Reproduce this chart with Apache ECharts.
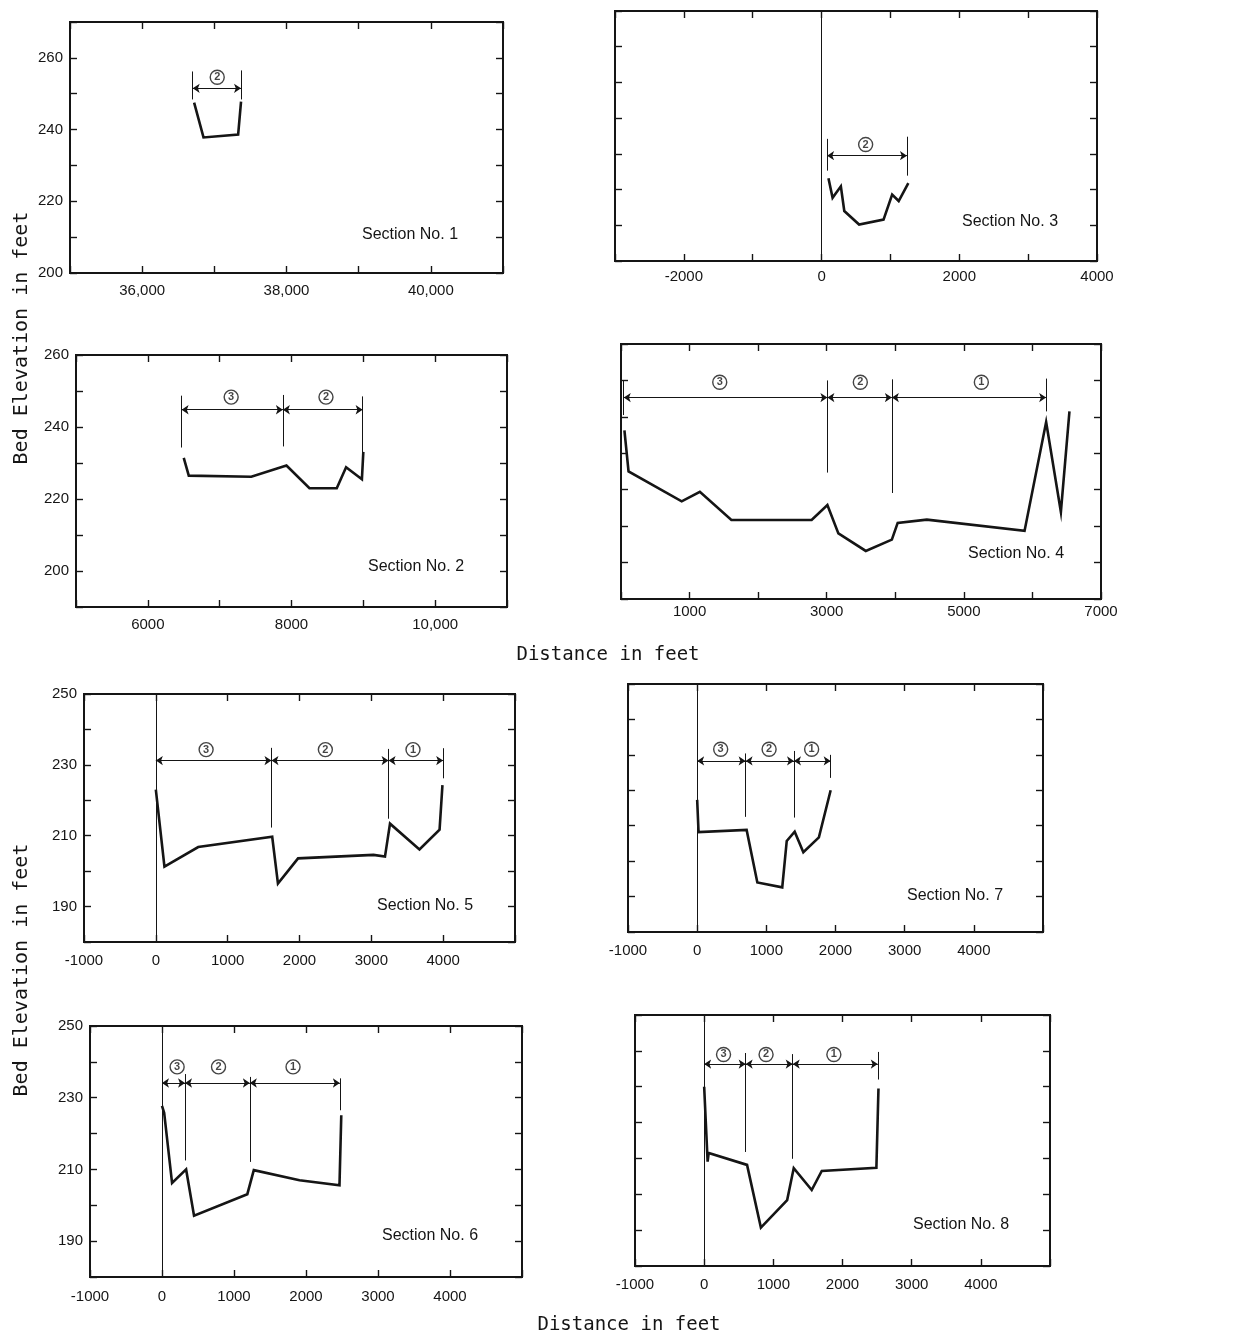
<!DOCTYPE html>
<html>
<head>
<meta charset="utf-8">
<script src="https://cdn.jsdelivr.net/npm/echarts@6/dist/echarts.min.js"></script>
<style>
html,body{margin:0;padding:0;background:#fff;}
#chart{width:1254px;height:1335px;}
</style>
</head>
<body>
<div id="chart"></div>
<script>
// ---------------- DATA ----------------
// Section No. 1
const sec1X = [36720, 36850, 37330, 37370];
const sec1Y = [247.5, 237.8, 238.6, 247.8];
const sec1Bounds = [36700, 37370];
const sec1BoundTop = [256.2, 256.5];
const sec1BoundBottom = [248.4, 248.4];
const sec1BracketY = 251.5;
const sec1Zones = ['2'];
const sec1ZoneX = [37040];
const sec1ZoneY = 254.6;

// Section No. 3
const sec3X = [100, 160, 280, 330, 545, 900, 1025, 1120, 1260];
const sec3Y = [223.2, 217.7, 220.9, 214.0, 210.2, 211.6, 218.6, 216.8, 221.8];
const sec3Bounds = [80, 1240];
const sec3BoundTop = [234.2, 234.8];
const sec3BoundBottom = [225.3, 223.9];
const sec3BracketY = 229.5;
const sec3Zones = ['2'];
const sec3ZoneX = [640];
const sec3ZoneY = 232.6;

// Section No. 2
const sec2X = [6500, 6570, 7440, 7930, 8250, 8630, 8760, 8980, 9000];
const sec2Y = [231.4, 226.5, 226.2, 229.3, 223.0, 223.0, 228.8, 225.5, 233.1];
const sec2Bounds = [6470, 7880, 8990];
const sec2BoundTop = [248.7, 248.9, 248.5];
const sec2BoundBottom = [234.3, 234.6, 232.3];
const sec2BracketY = 244.8;
const sec2Zones = ['3', '2'];
const sec2ZoneX = [7160, 8480];
const sec2ZoneY = 248.3;

// Section No. 4
const sec4X = [50, 110, 885, 1150, 1610, 2780, 3010, 3170, 3570, 3950, 4035, 4460, 5885, 6200, 6415, 6540];
const sec4Y = [236.3, 225.0, 216.8, 219.4, 211.7, 211.7, 215.8, 208.0, 203.2, 206.3, 210.9, 211.8, 208.7, 238.6, 213.9, 241.5];
const sec4Bounds = [40, 3010, 3950, 6200];
const sec4BoundTop = [250.0, 250.0, 250.3, 250.5];
const sec4BoundBottom = [240.5, 224.7, 219.1, 241.5];
const sec4BracketY = 245.3;
const sec4Zones = ['3', '2', '1'];
const sec4ZoneX = [1440, 3490, 5255];
const sec4ZoneY = 249.5;

// Section No. 5
const sec5X = [0, 120, 590, 1620, 1700, 1980, 3030, 3190, 3260, 3670, 3950, 3990];
const sec5Y = [223.0, 201.3, 206.8, 209.7, 196.5, 203.6, 204.6, 204.1, 213.4, 206.1, 211.7, 224.3];
const sec5Bounds = [0, 1610, 3240, 4000];
const sec5BoundTop = [235.0, 234.8, 234.5, 234.7];
const sec5BoundBottom = [212.0, 212.3, 214.8, 226.2];
const sec5BracketY = 231.2;
const sec5Zones = ['3', '2', '1'];
const sec5ZoneX = [700, 2360, 3580];
const sec5ZoneY = 234.3;

// Section No. 7
const sec7X = [0, 20, 715, 870, 1230, 1295, 1410, 1535, 1760, 1930];
const sec7Y = [217.3, 208.2, 208.8, 194.0, 192.6, 205.7, 208.3, 202.5, 206.7, 220.0];
const sec7Bounds = [0, 700, 1400, 1930];
const sec7BoundTop = [231.0, 230.4, 231.1, 230.0];
const sec7BoundBottom = [212.0, 212.5, 212.3, 223.5];
const sec7BracketY = 228.3;
const sec7Zones = ['3', '2', '1'];
const sec7ZoneX = [340, 1040, 1655];
const sec7ZoneY = 231.6;

// Section No. 6
const sec6X = [0, 30, 140, 335, 445, 1185, 1275, 1910, 2465, 2490];
const sec6Y = [227.7, 225.8, 206.2, 210.0, 197.1, 203.1, 209.8, 207.0, 205.6, 225.1];
const sec6Bounds = [0, 320, 1220, 2470];
const sec6BoundTop = [236.0, 236.6, 235.8, 235.4];
const sec6BoundBottom = [212.0, 212.5, 212.1, 226.5];
const sec6BracketY = 234.1;
const sec6Zones = ['3', '2', '1'];
const sec6ZoneX = [210, 785, 1820];
const sec6ZoneY = 238.6;

// Section No. 8
const sec8X = [0, 50, 65, 620, 820, 1200, 1295, 1555, 1700, 2490, 2520];
const sec8Y = [230.0, 209.1, 211.5, 208.2, 190.7, 198.4, 207.3, 201.2, 206.5, 207.4, 229.5];
const sec8Bounds = [0, 600, 1280, 2510];
const sec8BoundTop = [239.5, 239.4, 239.1, 239.7];
const sec8BoundBottom = [212.0, 211.8, 209.9, 232.0];
const sec8BracketY = 236.3;
const sec8Zones = ['3', '2', '1'];
const sec8ZoneX = [280, 895, 1875];
const sec8ZoneY = 239.0;

// Panel titles
const sectionNames = ['Section No. 1', 'Section No. 3', 'Section No. 2', 'Section No. 4',
                      'Section No. 5', 'Section No. 7', 'Section No. 6', 'Section No. 8'];
const yTitle = 'Bed Elevation in feet';
const xTitle = 'Distance in feet';

// ---------------- LAYOUT ----------------
const comma = v => { const a = Math.abs(v); const s = a >= 10000 ? (Math.floor(a/1000) + ',' + String(a % 1000).padStart(3,'0')) : String(a); return (v < 0 ? '-' : '') + s; };
const panels = [
  {grid:{left:70, top:22, width:433, height:251}, xr:[35000,41000], yr:[200,270],
   xFmt:v => (v % 2000 === 0 ? (v/1000) + ',000' : ''), yFmt:v => (v % 20 === 0 ? String(v) : ''), yLab:true, xm:10,
   d:{x:sec1X,y:sec1Y,b:sec1Bounds,bt:sec1BoundTop,bb:sec1BoundBottom,by:sec1BracketY,z:sec1Zones,zx:sec1ZoneX,zy:sec1ZoneY,zero:false},
   name:{x:362,y:235}},
  {grid:{left:615, top:11, width:482, height:250}, xr:[-3000,4000], yr:[200,270],
   xFmt:v => (Math.abs(v) % 2000 === 0 ? String(v) : ''), yFmt:v => '', yLab:false, xm:8,
   d:{x:sec3X,y:sec3Y,b:sec3Bounds,bt:sec3BoundTop,bb:sec3BoundBottom,by:sec3BracketY,z:sec3Zones,zx:sec3ZoneX,zy:sec3ZoneY,zero:true},
   name:{x:962,y:222}},
  {grid:{left:76, top:355, width:431, height:252}, xr:[5000,11000], yr:[190,260],
   xFmt:v => (v % 2000 === 0 ? comma(v) : ''), yFmt:v => (v % 20 === 0 ? String(v) : ''), yLab:true, xm:10,
   d:{x:sec2X,y:sec2Y,b:sec2Bounds,bt:sec2BoundTop,bb:sec2BoundBottom,by:sec2BracketY,z:sec2Zones,zx:sec2ZoneX,zy:sec2ZoneY,zero:false},
   name:{x:368,y:567}},
  {grid:{left:621, top:344, width:480, height:255}, xr:[0,7000], yr:[190,260],
   xFmt:v => (v % 2000 === 1000 ? String(v) : ''), yFmt:v => '', yLab:false, xm:5,
   d:{x:sec4X,y:sec4Y,b:sec4Bounds,bt:sec4BoundTop,bb:sec4BoundBottom,by:sec4BracketY,z:sec4Zones,zx:sec4ZoneX,zy:sec4ZoneY,zero:false},
   name:{x:968,y:554}},
  {grid:{left:84, top:694, width:431, height:248}, xr:[-1000,5000], yr:[180,250],
   xFmt:v => (v <= 4000 ? String(v) : ''), yFmt:v => (Math.abs(v) % 20 === 10 ? String(v) : ''), yLab:true, xm:11,
   d:{x:sec5X,y:sec5Y,b:sec5Bounds,bt:sec5BoundTop,bb:sec5BoundBottom,by:sec5BracketY,z:sec5Zones,zx:sec5ZoneX,zy:sec5ZoneY,zero:true},
   name:{x:377,y:906}},
  {grid:{left:628, top:684, width:415, height:248}, xr:[-1000,5000], yr:[180,250],
   xFmt:v => (v <= 4000 ? String(v) : ''), yFmt:v => '', yLab:false, xm:11,
   d:{x:sec7X,y:sec7Y,b:sec7Bounds,bt:sec7BoundTop,bb:sec7BoundBottom,by:sec7BracketY,z:sec7Zones,zx:sec7ZoneX,zy:sec7ZoneY,zero:true},
   name:{x:907,y:896}},
  {grid:{left:90, top:1026, width:432, height:251}, xr:[-1000,5000], yr:[180,250],
   xFmt:v => (v <= 4000 ? String(v) : ''), yFmt:v => (Math.abs(v) % 20 === 10 ? String(v) : ''), yLab:true, xm:12,
   d:{x:sec6X,y:sec6Y,b:sec6Bounds,bt:sec6BoundTop,bb:sec6BoundBottom,by:sec6BracketY,z:sec6Zones,zx:sec6ZoneX,zy:sec6ZoneY,zero:true},
   name:{x:382,y:1236}},
  {grid:{left:635, top:1015, width:415, height:251}, xr:[-1000,5000], yr:[180,250],
   xFmt:v => (v <= 4000 ? String(v) : ''), yFmt:v => '', yLab:false, xm:11,
   d:{x:sec8X,y:sec8Y,b:sec8Bounds,bt:sec8BoundTop,bb:sec8BoundBottom,by:sec8BracketY,z:sec8Zones,zx:sec8ZoneX,zy:sec8ZoneY,zero:true},
   name:{x:913,y:1225}}
];

const INK = '#151515';
const LABEL_FONT = 'Liberation Sans';
const TITLE_FONT = 'DejaVu Sans Mono';
const tick = {show:true, inside:true, length:7, lineStyle:{color:INK, width:1.4}};

const grids = [], xAxes = [], yAxes = [], series = [], graphics = [];

panels.forEach((p, i) => {
  grids.push(Object.assign({show:true, borderColor:INK, borderWidth:2, backgroundColor:'transparent', containLabel:false, outerBoundsMode:'none'}, p.grid));
  const xBase = {type:'value', gridIndex:i, min:p.xr[0], max:p.xr[1], interval:1000, splitLine:{show:false},
                 axisLine:{show:false, onZero:false}, axisTick:tick};
  const yBase = {type:'value', gridIndex:i, min:p.yr[0], max:p.yr[1], interval:10, splitLine:{show:false},
                 axisLine:{show:false, onZero:false}, axisTick:tick};
  xAxes.push(Object.assign({}, xBase, {position:'bottom',
    axisLabel:{show:true, margin:p.xm, formatter:p.xFmt, color:INK, fontFamily:LABEL_FONT, fontSize:15, showMinLabel:true, showMaxLabel:true}}));
  xAxes.push(Object.assign({}, xBase, {position:'top', axisLabel:{show:false}}));
  yAxes.push(Object.assign({}, yBase, {position:'left',
    axisLabel:{show:p.yLab, margin:7, formatter:p.yFmt, color:INK, fontFamily:LABEL_FONT, fontSize:15, showMinLabel:true, showMaxLabel:true}}));
  yAxes.push(Object.assign({}, yBase, {position:'right', axisLabel:{show:false}}));

  const xi = 2*i, yi = 2*i;
  const d = p.d;
  // bed profile
  series.push({type:'line', xAxisIndex:xi, yAxisIndex:yi, data:d.x.map((x,k)=>[x, d.y[k]]),
    symbol:'none', lineStyle:{color:INK, width:2.6, join:'miter'}, silent:true, z:5, animation:false});
  // vertical boundary lines (and zero line)
  const vlines = d.b.map((b,k)=>({coords:[[b, d.bb[k]],[b, d.bt[k]]]}));
  if (d.zero) vlines.push({coords:[[0, p.yr[0]],[0, p.yr[1]]]});
  series.push({type:'lines', coordinateSystem:'cartesian2d', xAxisIndex:xi, yAxisIndex:yi, data:vlines,
    symbol:['none','none'], lineStyle:{color:INK, width:1, opacity:1}, silent:true, z:3, animation:false});
  // bracket segments with arrows
  const segs = [];
  for (let k=0; k<d.b.length-1; k++) segs.push({coords:[[d.b[k], d.by],[d.b[k+1], d.by]]});
  series.push({type:'lines', coordinateSystem:'cartesian2d', xAxisIndex:xi, yAxisIndex:yi, data:segs,
    symbol:['arrow','arrow'], symbolSize:7, lineStyle:{color:INK, width:1.1, opacity:1}, silent:true, z:4, animation:false});
  // circled zone numbers
  series.push({type:'scatter', xAxisIndex:xi, yAxisIndex:yi, data:d.z.map((z,k)=>[d.zx[k], d.zy, z]),
    symbol:'circle', symbolSize:14, itemStyle:{color:'#fff', borderColor:INK, borderWidth:1.4},
    label:{show:true, position:'inside', formatter:pr=>pr.value[2], color:INK, fontFamily:LABEL_FONT, fontSize:11, fontWeight:'bold'},
    silent:true, z:6, animation:false});
  // section name
  graphics.push({type:'text', x:p.name.x, y:p.name.y, z:10,
    style:{text:sectionNames[i], fill:INK, font:'16px "' + LABEL_FONT + '"', textAlign:'left', textVerticalAlign:'middle'}});
});

// axis titles
graphics.push({type:'text', x:22, y:338, rotation:Math.PI/2, z:10,
  style:{text:yTitle, fill:INK, font:'20px "' + TITLE_FONT + '"', textAlign:'center', textVerticalAlign:'middle'}});
graphics.push({type:'text', x:22, y:970, rotation:Math.PI/2, z:10,
  style:{text:yTitle, fill:INK, font:'20px "' + TITLE_FONT + '"', textAlign:'center', textVerticalAlign:'middle'}});
graphics.push({type:'text', x:608, y:655, z:10,
  style:{text:xTitle, fill:INK, font:'19px "' + TITLE_FONT + '"', textAlign:'center', textVerticalAlign:'middle'}});
graphics.push({type:'text', x:629, y:1325, z:10,
  style:{text:xTitle, fill:INK, font:'19px "' + TITLE_FONT + '"', textAlign:'center', textVerticalAlign:'middle'}});

const chart = echarts.init(document.getElementById('chart'), null, {renderer:'canvas', width:1254, height:1335});
chart.setOption({
  backgroundColor:'#ffffff',
  animation:false,
  grid:grids, xAxis:xAxes, yAxis:yAxes, series:series, graphic:graphics
});
</script>
</body>
</html>
